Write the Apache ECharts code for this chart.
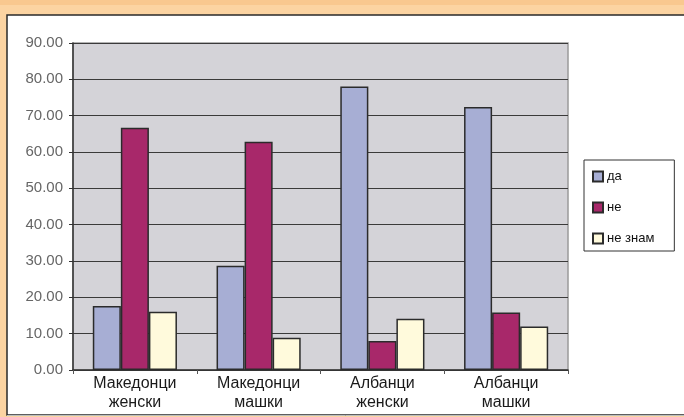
<!DOCTYPE html>
<html>
<head>
<meta charset="utf-8">
<script src="https://cdn.jsdelivr.net/npm/echarts@6/dist/echarts.min.js"></script>
<style>
  html, body { margin: 0; padding: 0; background: #fcd4a2; }
  #chart { width: 684px; height: 417px; }
</style>
</head>
<body>
<div id="chart"></div>
<script>
// categories (two-line labels) and series values
var categories = ['Македонци\nженски', 'Македонци\nмашки', 'Албанци\nженски', 'Албанци\nмашки'];
var seriesNames = ['да', 'не', 'не знам'];
var da = [17.6, 28.7, 78.0, 72.4];
var ne = [66.7, 62.8, 8.0, 15.8];
var neZnam = [16.0, 8.9, 14.1, 12.0];
var colors = ['#a7aed4', '#a8286a', '#fffadc'];

var chartDom = document.getElementById('chart');
var chart = echarts.init(chartDom);

function bar(name, data, color) {
    return {
        name: name,
        type: 'bar',
        data: data,
        barGap: '0%',
        barCategoryGap: '32%',
        itemStyle: { color: color, borderColor: '#2b2b2b', borderWidth: 1.5 }
    };
}

var option = {
    backgroundColor: '#fcd4a2',
    textStyle: { fontFamily: 'Liberation Sans, Arial, sans-serif' },
    graphic: [
        // darker orange strip on top
        { type: 'rect', shape: { x: 0, y: 0, width: 684, height: 5 }, style: { fill: '#f9c88f' }, z: -10 },
        // white panel with dark top/left edges
        { type: 'rect', shape: { x: 7, y: 15, width: 680, height: 400 }, style: { fill: '#ffffff', stroke: '#2a2a2a', lineWidth: 1.5 }, z: -9 },
        { type: 'line', shape: { x1: 7, y1: 415.5, x2: 684, y2: 415.5 }, style: { stroke: '#bdbdbd', lineWidth: 1 }, z: -8 }
    ],
    grid: {
        left: 73, top: 43, right: 116, bottom: 47,
        show: true, backgroundColor: '#d4d3d8', borderColor: '#9a9a9a', borderWidth: 1.5
    },
    legend: {
        orient: 'vertical',
        left: 584, top: 160,
        data: seriesNames,
        backgroundColor: '#ffffff',
        borderColor: '#333333', borderWidth: 1,
        padding: [10, 20, 6, 8],
        itemWidth: 10, itemHeight: 10, itemGap: 18,
        icon: 'rect',
        textStyle: { fontSize: 13, color: '#111', padding: [0, 0, 0, -1], fontFamily: 'Liberation Sans, Arial, sans-serif' }
    },
    xAxis: {
        type: 'category',
        data: categories,
        axisLine: { lineStyle: { color: '#333', width: 1.5 } },
        axisTick: { show: true, length: 4, lineStyle: { color: '#555' } },
        axisLabel: { color: '#1a1a1a', fontSize: 16, lineHeight: 19, margin: 4 }
    },
    yAxis: {
        type: 'value',
        min: 0, max: 90, interval: 10,
        axisLine: { show: true, lineStyle: { color: '#333', width: 1.5 } },
        axisTick: { show: true, length: 4, lineStyle: { color: '#333' } },
        axisLabel: { color: '#666', fontSize: 15, margin: 10, formatter: function (v) { return v.toFixed(2); } },
        splitLine: { lineStyle: { color: '#3a3a3a', width: 1 } }
    },
    series: [
        bar(seriesNames[0], da, colors[0]),
        bar(seriesNames[1], ne, colors[1]),
        bar(seriesNames[2], neZnam, colors[2])
    ]
};

chart.setOption(option);
</script>
</body>
</html>
